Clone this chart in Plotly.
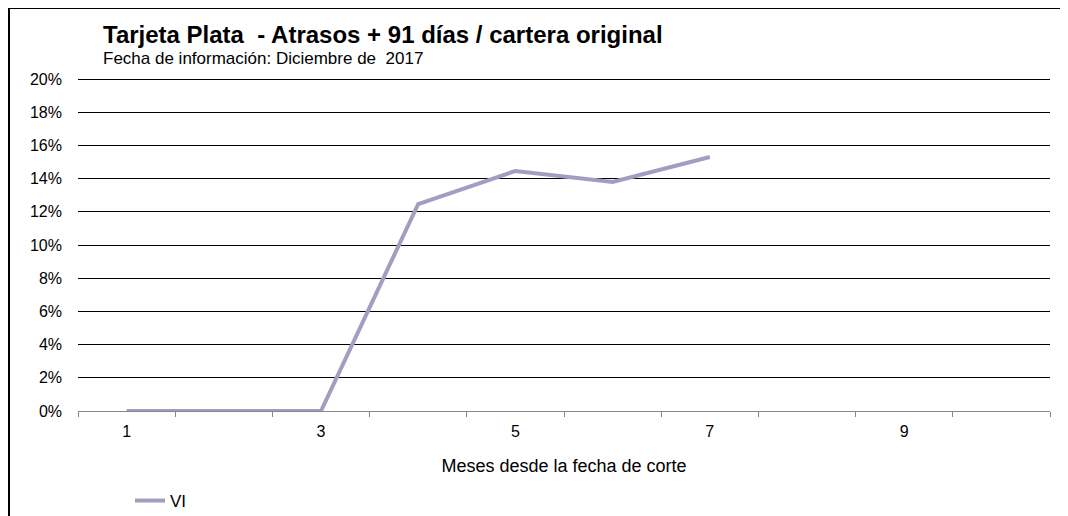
import plotly.graph_objects as go

months = ["1", "2", "3", "4", "5", "6", "7", "8", "9", "10"]
month_labels = ["1", "", "3", "", "5", "", "7", "", "9", ""]
vi_months = ["1", "2", "3", "4", "5", "6", "7"]
vi_values = [0.0, 0.0, 0.0, 0.1247, 0.1446, 0.138, 0.153]
y_ticks = [0, 0.02, 0.04, 0.06, 0.08, 0.10, 0.12, 0.14, 0.16, 0.18, 0.20]

W, H = 1068, 516
OFF = 8  # page body margin offset
# plot area in reference (screen) pixels
RL, RR, RT, RB = 78, 1050, 79, 411
pw, ph = RR - RL, RB - RT
L, T = RL - OFF, RT - OFF

def px_x(x):
    return (x - RL) / pw

def px_y(y):
    return (RB - y) / ph

FONT = "Liberation Sans, Arial, sans-serif"

fig = go.Figure()
fig.add_trace(go.Scatter(
    x=vi_months, y=vi_values, mode="lines", name="VI",
    line=dict(color="#A69BC0", width=4),
))

fig.update_layout(
    width=W, height=H,
    margin=dict(l=L, r=W - L - pw, t=T, b=H - T - ph, autoexpand=False),
    paper_bgcolor="white", plot_bgcolor="white",
    font=dict(family=FONT, size=16, color="black"),
    title=dict(
        text="<b>Tarjeta Plata  - Atrasos + 91 días / cartera original</b>",
        font=dict(family=FONT, size=24, color="black"),
        x=(103 - OFF) / W, xanchor="left", xref="container",
        y=1 - (35 - OFF) / H, yanchor="middle", yref="container",
    ),
    annotations=[dict(
        text="Fecha de información: Diciembre de  2017",
        xref="paper", yref="paper", x=px_x(101), y=px_y(58),
        xanchor="left", yanchor="middle", showarrow=False,
        font=dict(family=FONT, size=17, color="black"),
    )],
    showlegend=True,
    legend=dict(
        orientation="h", x=px_x(130), y=px_y(501), xanchor="left", yanchor="middle",
        font=dict(family=FONT, size=17, color="black"), bgcolor="rgba(0,0,0,0)",
    ),
    shapes=[
        dict(
            type="rect", xref="paper", yref="paper",
            x0=px_x(9), x1=px_x(1062), y0=px_y(530), y1=px_y(8),
            line=dict(color="black", width=2), fillcolor="rgba(0,0,0,0)", layer="below",
        ),
        dict(
            type="line", xref="paper", yref="y", x0=0, x1=1,
            y0=y_ticks[-1], y1=y_ticks[-1],
            line=dict(color="black", width=2), layer="below",
        ),
    ],
)

fig.update_xaxes(
    type="category", categoryorder="array", categoryarray=months,
    range=[-0.5, 9.5], automargin=False,
    tickmode="array", tickvals=months, ticktext=month_labels,
    tickson="boundaries", ticks="outside", ticklen=5, tickcolor="#888888", tickwidth=1,
    showline=True, linecolor="#888888", linewidth=1,
    showgrid=False, zeroline=False,
    ticklabelstandoff=6,
    tickfont=dict(family=FONT, size=16, color="black"),
    title=dict(text="Meses desde la fecha de corte", standoff=20,
               font=dict(family=FONT, size=18, color="black")),
)
fig.update_yaxes(
    range=[0, 0.20], tickmode="array", tickvals=y_ticks, tickformat=".0%",
    showgrid=True, gridcolor="black", gridwidth=1, automargin=False,
    zeroline=False, showline=False, ticks="",
    ticklabelstandoff=15,
    tickfont=dict(family=FONT, size=16, color="black"),
)

fig.write_html("out.html")
